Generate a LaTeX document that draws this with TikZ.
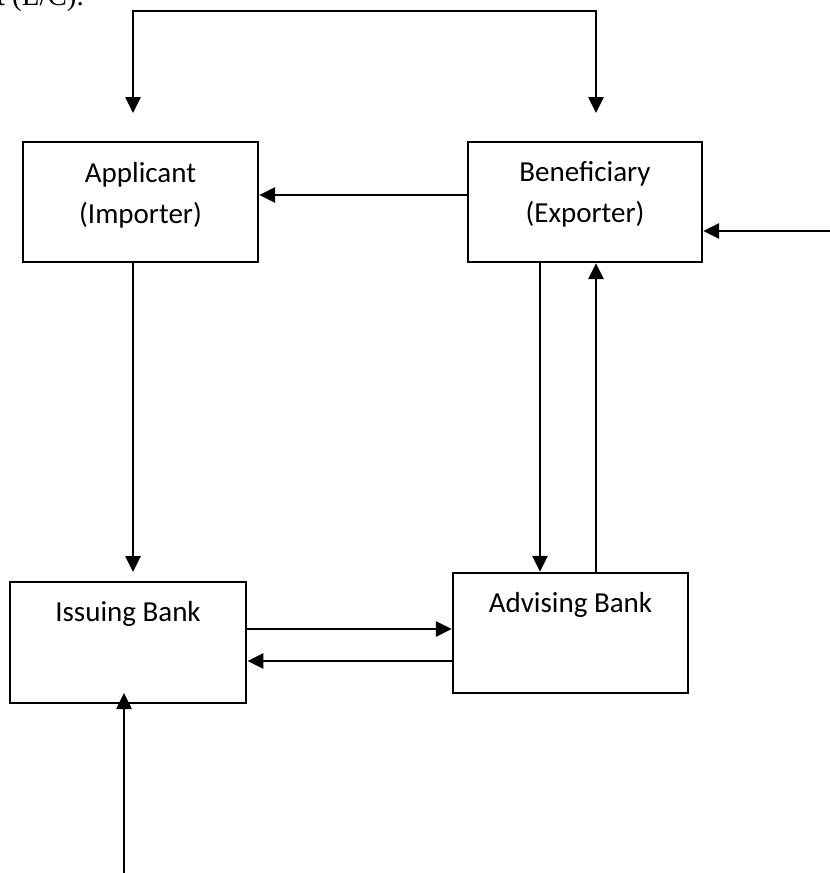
\documentclass[tikz,border=0pt]{standalone}
\usepackage{fontspec}
\setmainfont{Carlito}
\newfontfamily\seriffont{Liberation Serif}
\usetikzlibrary{arrows.meta}
\begin{document}
\begin{tikzpicture}[x=1pt,y=-1pt,
  box/.style={draw=black,line width=2.4pt,inner sep=0pt,minimum width=235pt,minimum height=120pt},
  lbl/.style={anchor=base,inner sep=0pt,font=\fontsize{29}{41}\selectfont},
  arr/.style={line width=2.6pt,-{Triangle[length=16pt,width=15pt]}},
  darr/.style={line width=2.6pt,{Triangle[length=16pt,width=15pt]}-{Triangle[length=16pt,width=15pt]}}]
\useasboundingbox (0,0) rectangle (830,873);
% cut-off text at top
\node[anchor=base east,inner sep=0pt,font=\seriffont\fontsize{29}{34}\selectfont] (cut) at (84,5) {t (L/C).};
% boxes
\node[box] (app) at (140.5,202) {};
\node[box,minimum width=234pt] (ben) at (585,202) {};
\node[box,minimum width=236.5pt,minimum height=121pt] (iss) at (128,642.5) {};
\node[box] (adv) at (570.5,633) {};
% labels
\node[lbl] (appt1) at (140.5,182) {Applicant};
\node[lbl] (appt2) at (140.5,223) {(Importer)};
\node[lbl] (bent1) at (585,181) {Beneficiary};
\node[lbl] (bent2) at (585,222) {(Exporter)};
\node[lbl] (isst) at (128,621) {Issuing Bank};
\node[lbl] (advt) at (570.5,612) {Advising Bank};
% free ends
\coordinate (tl) at (133,113);
\coordinate (tr) at (596,113);
\coordinate (topl) at (133,11);
\coordinate (topr) at (596,11);
\coordinate (rin) at (830,231);
\coordinate (appdown) at (133,572);
\coordinate (bot) at (124,873);
\coordinate (bottip) at (124,693);
% connectors
\draw[darr] (tl) -- (topl) -- (topr) -- (tr);
\draw[arr] (ben.west |- 0,195) -- (app.east |- 0,195);
\draw[arr] (rin) -- (ben.east |- rin);
\draw[arr] (app.south -| appdown) -- (appdown);
\draw[arr] (ben.south -| 540,0) -- (adv.north -| 540,0);
\draw[arr] (adv.north -| 596,0) -- (ben.south -| 596,0);
\draw[arr] (iss.east |- 0,629) -- (adv.west |- 0,629);
\draw[arr] (adv.west |- 0,661) -- (iss.east |- 0,661);
\draw[arr] (bot) -- (bottip);
\end{tikzpicture}
\end{document}
